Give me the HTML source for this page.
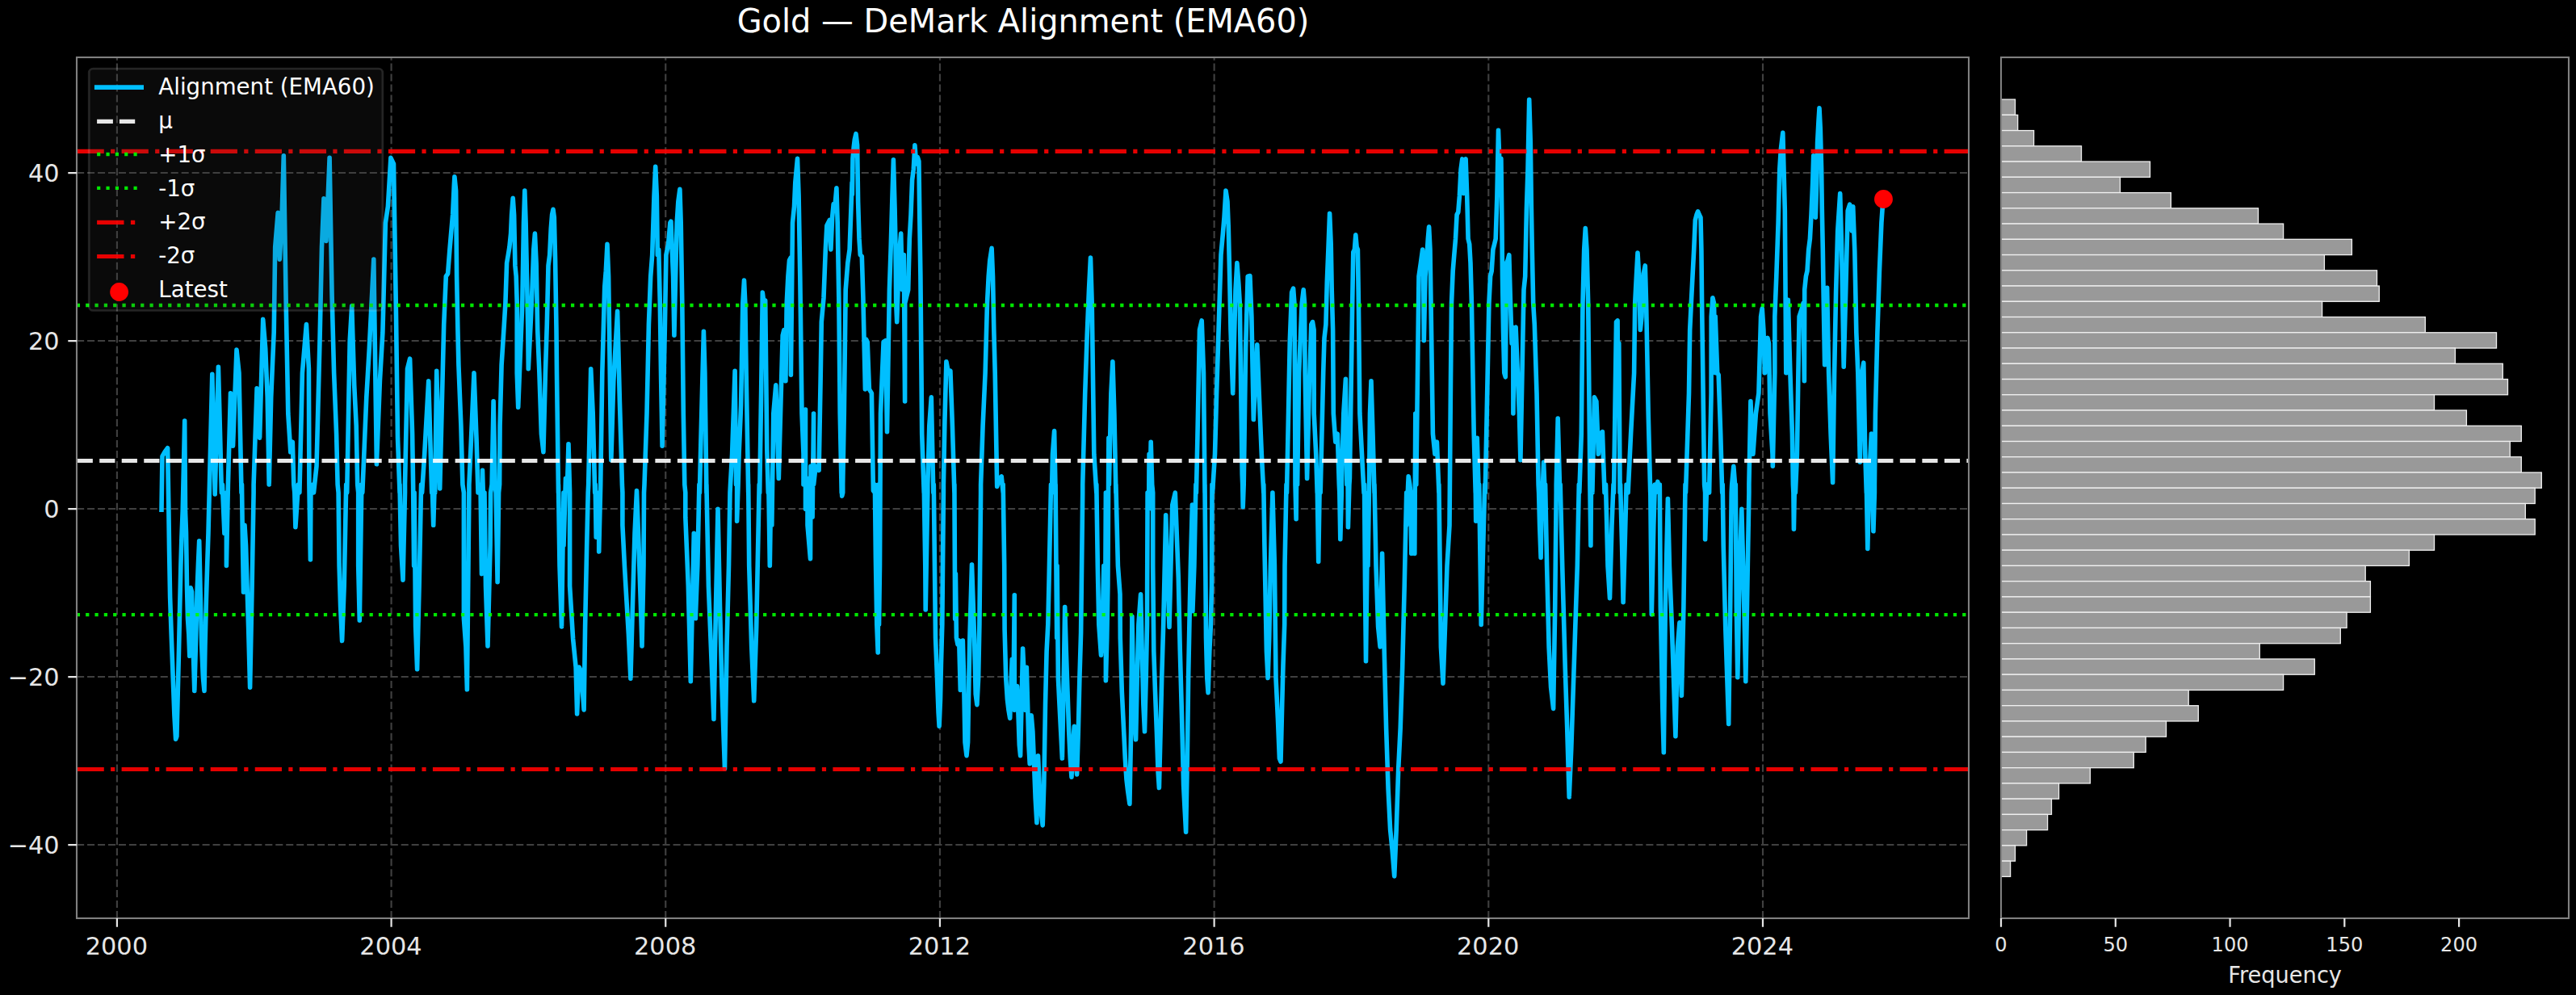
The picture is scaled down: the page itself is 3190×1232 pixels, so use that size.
<!DOCTYPE html><html><head><meta charset="utf-8"><title>Gold — DeMark Alignment (EMA60)</title><style>html,body{margin:0;padding:0;background:#000;overflow:hidden}svg{display:block}text{font-family:"DejaVu Sans","Liberation Sans",sans-serif}</style></head><body>
<svg width="3190" height="1232" viewBox="0 0 3190 1232">
<rect width="3190" height="1232" fill="#000"/>
<text transform="translate(1267.05 40.1) scale(1 1.03)" x="0" y="0" font-size="39.88" fill="#fff" text-anchor="middle">Gold — DeMark Alignment (EMA60)</text>
<defs><clipPath id="cm"><rect x="95.0" y="71.0" width="2343.0" height="1066.0"/></clipPath></defs>
<path d="M95.1 214.07H2438.0M95.1 422.07H2438.0M95.1 630.07H2438.0M95.1 838.07H2438.0M95.1 1046.07H2438.0" stroke="#404040" stroke-width="2.1" stroke-dasharray="9.05 3.905" fill="none"/>
<path d="M144.90 1137.0V71.0M484.58 1137.0V71.0M824.26 1137.0V71.0M1163.94 1137.0V71.0M1503.62 1137.0V71.0M1843.30 1137.0V71.0M2182.98 1137.0V71.0" stroke="#404040" stroke-width="2.1" stroke-dasharray="9.05 3.905" fill="none"/>
<g clip-path="url(#cm)"><path d="M200.0 631.2 L201.0 564.8 L204.0 559.7 L207.6 554.7 L208.9 633.2 L209.6 682.9 L210.6 739.3 L212.2 785.7 L214.2 838.8 L215.9 885.2 L217.6 915.1 L218.9 911.8 L220.2 858.7 L221.5 805.6 L222.9 742.6 L223.9 699.5 L224.9 666.3 L226.2 633.2 L228.7 521.1 L229.5 633.2 L230.5 659.7 L231.5 726.0 L232.5 765.8 L233.8 785.7 L234.8 812.3 L236.1 727.7 L237.5 732.7 L239.1 799.0 L240.8 855.4 L242.4 799.0 L244.1 732.7 L245.4 699.5 L246.7 669.7 L248.1 732.7 L249.7 799.0 L251.4 838.8 L253.0 855.4 L254.0 799.0 L255.4 742.6 L256.7 699.5 L258.0 659.7 L262.8 463.3 L266.2 612.0 L270.4 454.2 L274.4 610.0 L275.4 600.0 L277.9 660.3 L280.4 610.0 L280.4 700.5 L282.4 600.0 L285.5 486.9 L288.5 552.2 L293.0 433.1 L296.0 461.8 L299.0 610.0 L299.5 600.0 L300.5 675.4 L301.5 733.2 L303.0 650.3 L304.5 675.4 L307.6 775.9 L309.6 851.3 L312.1 725.6 L314.1 610.0 L314.1 600.0 L318.1 480.9 L321.6 542.2 L325.7 395.4 L328.7 431.6 L331.2 491.9 L333.2 599.9 L335.7 491.9 L339.2 411.5 L340.7 306.0 L344.2 263.3 L346.3 321.1 L348.8 275.8 L351.3 192.9 L354.3 381.4 L356.8 512.0 L359.8 559.7 L362.3 547.2 L363.8 600.0 L364.8 610.0 L365.9 652.8 L369.4 600.0 L370.9 610.0 L374.4 461.8 L379.4 401.5 L382.4 456.7 L382.9 600.0 L384.4 693.0 L384.9 610.0 L387.5 600.0 L388.5 610.0 L392.0 577.3 L396.0 421.6 L398.5 306.0 L401.0 245.7 L404.0 298.4 L408.1 195.4 L411.1 366.3 L413.6 461.8 L416.6 537.1 L418.1 600.0 L419.1 610.0 L420.1 700.5 L421.6 750.8 L423.6 793.5 L426.2 725.6 L428.7 600.0 L429.7 610.0 L433.2 421.6 L435.7 378.8 L438.7 476.8 L441.2 527.1 L442.7 600.0 L443.7 610.0 L443.7 700.5 L445.3 768.3 L447.8 600.0 L448.8 610.0 L453.8 491.9 L457.3 431.6 L462.8 321.1 L466.4 574.8 L470.4 471.8 L473.9 411.5 L477.4 275.8 L480.4 255.7 L483.9 195.4 L487.5 203.0 L490.5 391.4 L492.5 542.2 L495.0 610.0 L495.0 600.0 L496.5 675.4 L499.0 718.1 L501.5 610.0 L501.5 600.0 L504.5 456.7 L507.6 444.2 L510.6 537.1 L511.6 600.0 L512.6 700.5 L513.1 610.0 L514.6 775.9 L516.6 828.6 L519.1 725.6 L521.6 600.0 L522.6 610.0 L525.7 562.3 L530.7 471.8 L534.7 610.0 L535.2 600.0 L536.7 650.3 L538.2 600.0 L538.7 610.0 L540.7 459.2 L544.7 605.0 L549.7 401.9 L552.3 342.2 L554.6 338.9 L556.9 309.0 L558.6 289.1 L560.6 265.9 L562.3 229.4 L562.9 218.8 L564.6 236.0 L565.6 342.2 L566.9 408.5 L567.9 451.7 L570.9 527.1 L572.9 600.0 L574.4 610.0 L574.4 765.8 L576.9 801.0 L578.4 853.8 L580.9 610.0 L580.9 600.0 L582.9 557.2 L587.0 461.8 L590.0 542.2 L592.0 610.0 L595.0 600.0 L596.5 710.6 L597.5 582.4 L599.0 635.2 L600.0 610.0 L601.5 725.6 L604.0 800.0 L607.1 675.4 L607.6 610.0 L609.1 600.0 L611.1 496.9 L613.1 600.0 L614.1 610.0 L616.1 720.6 L617.6 610.0 L618.6 600.0 L619.1 527.1 L621.1 451.7 L624.3 401.9 L625.9 375.3 L627.6 325.6 L629.3 315.6 L630.9 305.7 L632.6 289.1 L633.6 265.9 L635.2 245.3 L636.6 265.9 L637.9 328.9 L639.2 342.2 L640.2 375.3 L640.2 461.8 L641.7 504.5 L646.8 375.3 L648.5 275.8 L649.8 236.0 L651.1 275.8 L652.5 342.2 L653.8 408.5 L654.3 456.7 L657.4 395.2 L659.1 355.4 L660.8 309.0 L662.4 289.1 L664.1 325.6 L665.7 408.5 L667.9 461.8 L670.4 537.1 L672.9 559.7 L675.4 461.8 L677.3 401.9 L679.0 328.9 L680.7 315.6 L682.3 282.5 L683.6 265.9 L685.0 259.3 L686.3 269.2 L687.6 322.3 L689.0 408.5 L689.5 461.8 L691.5 610.0 L691.5 600.0 L693.0 700.5 L695.5 775.9 L698.0 610.0 L698.0 675.4 L700.5 592.4 L700.5 600.0 L702.5 600.0 L704.0 549.7 L705.6 610.0 L705.6 725.6 L709.6 791.0 L713.1 826.1 L714.6 883.9 L717.1 826.1 L719.6 831.2 L723.1 878.9 L724.6 775.9 L726.7 675.4 L728.2 610.0 L728.7 600.0 L731.7 456.7 L734.2 512.0 L736.7 610.0 L737.2 600.0 L738.2 665.3 L741.7 610.0 L741.7 682.9 L743.7 600.0 L745.8 461.8 L748.7 355.4 L750.3 335.5 L752.0 302.4 L753.6 342.2 L756.8 569.8 L759.8 471.8 L764.6 385.3 L767.4 496.9 L769.4 562.3 L770.4 600.0 L770.9 610.0 L770.9 650.3 L773.4 700.5 L778.4 785.9 L780.9 840.2 L783.4 750.8 L786.0 660.3 L788.5 607.5 L791.0 675.4 L793.5 750.8 L795.0 800.0 L797.0 700.5 L797.5 610.0 L798.0 600.0 L801.0 512.0 L803.4 401.9 L805.7 342.2 L807.7 315.6 L810.0 242.7 L811.7 206.2 L813.3 242.7 L814.3 315.6 L815.7 309.0 L817.3 375.3 L818.6 466.8 L820.1 552.2 L823.3 408.5 L824.9 315.6 L827.6 302.4 L829.9 275.8 L830.9 274.2 L832.2 309.0 L833.6 342.2 L834.9 415.1 L836.6 342.2 L838.2 275.8 L839.9 249.3 L841.9 234.4 L843.2 275.8 L844.8 375.3 L846.3 512.0 L847.8 600.0 L848.8 610.0 L848.8 640.2 L852.3 725.6 L855.3 843.7 L857.3 750.8 L859.3 660.3 L861.3 765.8 L863.8 700.5 L865.9 600.0 L866.4 610.0 L867.9 547.2 L871.4 410.2 L872.9 461.8 L874.9 610.0 L874.9 600.0 L877.4 725.6 L881.4 826.1 L883.9 890.5 L886.5 750.8 L889.0 630.2 L891.5 750.8 L894.0 851.3 L897.5 951.8 L900.0 801.0 L902.5 700.5 L904.0 610.0 L904.5 600.0 L906.6 562.3 L910.1 459.2 L911.6 600.0 L912.6 537.1 L912.6 645.2 L914.1 600.0 L915.1 562.3 L917.6 502.0 L919.8 375.3 L921.5 347.1 L922.8 375.3 L924.1 461.8 L926.7 610.0 L926.7 600.0 L927.7 700.5 L930.7 801.0 L933.7 867.8 L936.7 775.9 L938.7 675.4 L940.2 600.0 L940.7 610.0 L942.7 481.9 L944.3 362.1 L946.0 375.3 L947.7 372.0 L949.8 557.2 L951.3 610.0 L951.8 600.0 L953.3 700.5 L954.8 600.0 L955.3 610.0 L955.8 650.3 L957.8 512.0 L960.8 476.8 L964.3 592.4 L967.9 461.8 L969.2 415.1 L970.9 408.5 L972.9 471.8 L974.2 375.3 L975.9 342.2 L977.5 322.3 L979.2 319.0 L979.4 464.3 L981.5 275.8 L983.5 255.9 L984.8 226.1 L987.5 196.2 L989.1 242.7 L990.8 342.2 L993.0 512.0 L995.0 562.3 L995.0 582.4 L995.0 600.0 L997.5 507.0 L997.5 630.2 L1000.0 592.4 L1000.0 650.3 L1003.5 692.0 L1004.0 577.3 L1006.1 640.2 L1007.6 512.0 L1007.6 600.0 L1010.1 577.3 L1014.1 582.4 L1016.1 471.8 L1017.3 398.6 L1020.0 368.7 L1022.3 309.0 L1023.9 279.2 L1027.3 272.5 L1028.9 309.0 L1030.6 269.2 L1032.2 252.6 L1033.9 255.9 L1035.9 232.7 L1037.2 275.8 L1038.9 375.3 L1040.2 512.0 L1042.2 610.0 L1042.2 600.0 L1042.7 614.1 L1043.7 610.0 L1043.7 600.0 L1045.3 512.0 L1047.2 358.8 L1049.8 325.6 L1052.1 309.0 L1055.1 226.1 L1055.3 240.7 L1056.0 196.2 L1057.3 181.3 L1058.3 173.0 L1060.0 165.7 L1061.6 179.7 L1062.6 249.3 L1064.0 295.7 L1065.3 315.6 L1067.3 317.3 L1068.9 368.7 L1071.4 481.9 L1072.6 420.1 L1074.2 423.4 L1076.4 481.9 L1079.4 486.9 L1081.4 607.5 L1083.4 610.0 L1083.4 600.0 L1084.4 690.5 L1085.8 773.2 L1087.2 808.0 L1088.0 610.0 L1088.0 600.0 L1088.5 773.2 L1089.5 700.5 L1090.5 512.0 L1094.1 423.4 L1096.5 421.8 L1098.5 534.6 L1101.4 358.8 L1103.1 309.0 L1104.8 249.3 L1106.4 197.9 L1108.1 259.3 L1109.1 309.0 L1109.7 375.3 L1110.7 398.6 L1112.0 358.8 L1114.0 309.0 L1115.7 289.1 L1117.4 358.8 L1119.3 315.6 L1120.6 496.9 L1120.7 375.3 L1124.7 358.8 L1126.3 295.7 L1128.0 265.9 L1129.6 222.8 L1131.3 209.5 L1132.9 179.7 L1134.6 202.9 L1136.3 194.6 L1137.9 199.6 L1138.9 275.8 L1139.9 342.2 L1141.7 537.1 L1144.2 610.0 L1144.2 600.0 L1145.8 700.5 L1146.2 754.9 L1148.8 610.0 L1148.8 600.0 L1150.8 527.1 L1153.3 491.9 L1155.8 610.0 L1156.3 600.0 L1158.5 789.8 L1160.5 839.5 L1162.1 882.6 L1163.1 899.2 L1164.5 866.0 L1165.4 822.9 L1166.8 773.2 L1168.4 610.0 L1168.4 600.0 L1169.9 522.1 L1171.9 447.7 L1174.4 461.8 L1176.9 459.2 L1179.4 527.1 L1181.9 610.0 L1181.9 600.0 L1182.7 766.5 L1183.4 710.6 L1184.4 789.8 L1186.0 798.0 L1187.7 793.1 L1189.3 854.4 L1191.0 852.8 L1192.3 793.1 L1193.6 839.5 L1195.0 919.1 L1197.0 935.7 L1198.6 919.1 L1199.9 839.5 L1200.9 789.8 L1203.5 699.0 L1206.6 789.8 L1208.2 859.4 L1209.9 872.7 L1211.6 839.5 L1212.9 773.2 L1214.6 610.0 L1214.6 600.0 L1217.1 527.1 L1220.1 461.8 L1222.5 375.3 L1224.2 342.2 L1225.8 322.3 L1228.1 307.3 L1229.5 342.2 L1230.8 408.5 L1232.2 461.8 L1234.7 602.5 L1237.7 592.4 L1240.2 589.9 L1242.2 610.0 L1242.2 600.0 L1243.7 700.5 L1244.1 779.8 L1245.7 839.5 L1247.4 866.0 L1249.0 879.3 L1250.7 889.3 L1252.3 839.5 L1253.3 816.3 L1255.0 856.1 L1256.3 736.7 L1256.3 879.3 L1258.0 872.7 L1259.6 849.5 L1260.6 872.7 L1262.3 922.4 L1263.6 935.7 L1265.0 872.7 L1266.6 803.0 L1268.3 839.5 L1269.9 879.3 L1271.3 826.2 L1272.6 872.7 L1273.9 922.4 L1275.2 945.6 L1277.2 885.9 L1278.9 905.8 L1280.5 945.6 L1282.2 988.8 L1283.9 1018.6 L1285.5 935.7 L1287.2 972.2 L1288.8 1002.0 L1291.2 1021.9 L1292.8 972.2 L1294.5 872.7 L1296.1 806.3 L1297.8 773.2 L1299.0 720.6 L1301.5 600.0 L1302.5 610.0 L1303.5 562.3 L1305.6 533.6 L1307.1 610.0 L1307.1 600.0 L1308.7 789.8 L1309.1 700.5 L1310.4 839.5 L1312.0 872.7 L1313.7 905.8 L1315.4 939.0 L1317.0 856.1 L1318.7 751.6 L1320.3 806.3 L1322.0 856.1 L1323.7 905.8 L1325.3 939.0 L1327.0 962.2 L1328.6 922.4 L1330.3 899.2 L1331.9 939.0 L1333.6 958.9 L1335.3 905.8 L1336.9 839.5 L1338.6 783.1 L1340.7 610.0 L1340.7 600.0 L1343.7 486.9 L1346.2 415.1 L1348.5 358.8 L1350.5 319.0 L1352.2 375.3 L1354.8 562.3 L1357.8 610.0 L1357.8 600.0 L1359.3 700.5 L1360.8 773.2 L1363.5 811.3 L1365.1 773.2 L1366.9 700.5 L1368.4 806.3 L1369.4 610.0 L1369.4 842.8 L1370.8 789.8 L1371.9 725.6 L1372.9 542.2 L1373.4 600.0 L1375.9 486.9 L1377.9 447.7 L1379.9 512.0 L1381.9 610.0 L1381.9 600.0 L1384.4 700.5 L1387.0 735.7 L1387.3 789.8 L1389.3 856.1 L1391.7 905.8 L1393.3 939.0 L1395.0 965.5 L1396.6 978.8 L1398.9 995.4 L1400.6 905.8 L1401.9 763.2 L1403.3 839.5 L1404.9 889.3 L1406.6 915.8 L1408.2 839.5 L1409.9 773.2 L1412.6 735.7 L1414.2 806.3 L1415.9 872.7 L1417.5 905.8 L1419.2 839.5 L1420.5 773.2 L1421.1 610.0 L1422.6 630.2 L1423.1 562.3 L1424.1 600.0 L1425.2 547.2 L1426.7 600.0 L1427.7 610.0 L1427.7 700.5 L1428.8 806.3 L1430.5 856.1 L1432.4 905.8 L1434.1 955.6 L1435.4 975.5 L1437.1 905.8 L1438.7 839.5 L1440.7 773.2 L1443.7 637.7 L1448.0 776.5 L1451.8 625.1 L1455.3 610.1 L1459.3 715.6 L1461.3 806.3 L1463.6 889.3 L1465.6 972.2 L1467.3 1005.3 L1468.6 1030.2 L1470.3 939.0 L1471.6 839.5 L1472.9 773.2 L1474.4 700.5 L1476.4 625.1 L1476.9 756.6 L1478.9 700.5 L1480.9 600.0 L1481.4 610.0 L1482.9 542.2 L1485.5 408.5 L1488.2 396.9 L1490.5 461.8 L1492.0 610.0 L1492.0 600.0 L1493.5 789.8 L1494.8 839.5 L1496.1 857.7 L1497.8 806.3 L1499.4 773.2 L1500.5 725.6 L1501.0 600.0 L1501.5 610.0 L1504.5 562.3 L1506.6 486.9 L1510.1 375.3 L1512.0 315.6 L1514.4 289.1 L1516.0 269.2 L1518.0 236.0 L1520.0 249.3 L1521.3 282.5 L1522.7 342.2 L1524.0 408.5 L1526.7 486.9 L1530.0 358.8 L1531.9 325.6 L1533.9 352.1 L1535.3 375.3 L1538.2 587.4 L1538.7 600.0 L1539.2 627.6 L1540.2 600.0 L1542.6 431.7 L1545.2 342.2 L1547.9 341.5 L1549.9 391.9 L1552.3 519.5 L1556.8 426.7 L1559.8 502.0 L1562.3 562.3 L1564.8 610.0 L1564.8 600.0 L1565.9 675.4 L1568.4 806.3 L1570.1 839.5 L1571.7 789.8 L1573.4 700.5 L1575.9 610.1 L1578.4 700.5 L1580.0 839.5 L1582.4 889.3 L1584.4 939.0 L1586.0 943.0 L1587.7 872.7 L1589.0 822.9 L1590.7 773.2 L1591.0 700.5 L1593.0 600.0 L1593.5 610.0 L1596.0 486.9 L1597.3 421.8 L1599.6 362.1 L1601.6 357.1 L1602.9 375.3 L1603.5 461.8 L1604.0 600.0 L1605.1 642.7 L1606.1 537.1 L1606.6 600.0 L1608.6 461.8 L1612.2 375.3 L1614.2 358.8 L1615.5 375.3 L1616.1 461.8 L1618.6 592.4 L1621.1 486.9 L1623.8 401.9 L1625.5 398.6 L1627.1 408.5 L1627.2 512.0 L1629.7 562.3 L1631.2 610.0 L1631.2 600.0 L1632.7 695.5 L1634.2 600.0 L1635.2 610.0 L1638.7 461.8 L1640.0 418.5 L1641.9 401.9 L1643.3 348.8 L1644.9 309.0 L1646.6 264.2 L1648.2 302.4 L1649.2 358.8 L1650.6 408.5 L1651.3 512.0 L1653.8 547.2 L1656.3 537.1 L1658.3 600.0 L1658.8 610.0 L1659.8 667.8 L1661.3 610.0 L1661.3 600.0 L1663.8 512.0 L1666.4 469.3 L1667.9 600.0 L1668.9 562.3 L1669.4 652.8 L1670.9 600.0 L1671.4 592.4 L1674.8 368.7 L1675.8 312.3 L1677.4 309.0 L1678.8 290.8 L1680.1 305.7 L1681.4 309.0 L1682.4 375.3 L1683.9 512.0 L1686.5 562.3 L1689.0 610.0 L1689.5 600.0 L1690.5 725.6 L1691.5 818.6 L1694.0 610.0 L1694.0 700.5 L1695.5 600.0 L1696.5 512.0 L1698.0 471.8 L1700.0 537.1 L1702.0 610.0 L1702.0 600.0 L1704.0 700.5 L1706.6 775.9 L1709.1 801.0 L1711.6 685.4 L1714.1 801.0 L1716.6 901.5 L1719.1 976.9 L1721.6 1027.1 L1724.1 1052.3 L1726.7 1084.9 L1729.2 1027.1 L1731.7 951.8 L1734.2 901.5 L1736.7 826.1 L1739.2 725.6 L1741.7 610.0 L1741.7 650.3 L1743.7 600.0 L1744.2 589.9 L1745.8 600.0 L1746.8 610.0 L1747.8 685.4 L1749.3 610.0 L1749.8 650.3 L1751.8 685.4 L1752.8 512.0 L1753.8 600.0 L1757.0 342.2 L1759.4 325.6 L1761.7 309.0 L1762.7 342.2 L1763.3 421.8 L1765.0 342.2 L1766.7 322.3 L1768.3 295.7 L1769.6 280.8 L1771.0 309.0 L1772.0 375.3 L1774.4 537.1 L1776.9 562.3 L1779.4 547.2 L1781.9 610.0 L1781.9 600.0 L1784.4 801.0 L1787.0 846.2 L1789.5 775.9 L1792.0 700.5 L1795.0 650.3 L1796.5 471.8 L1797.5 375.3 L1799.2 335.5 L1800.8 315.6 L1802.5 295.7 L1804.1 265.9 L1805.8 262.6 L1807.4 242.7 L1809.1 209.5 L1810.8 196.9 L1812.4 239.4 L1813.4 199.6 L1815.1 196.9 L1816.7 242.7 L1818.1 295.7 L1819.7 302.4 L1821.0 325.6 L1822.4 375.3 L1825.2 537.1 L1827.2 610.0 L1827.2 600.0 L1827.7 645.2 L1828.2 610.0 L1828.7 600.0 L1829.2 542.2 L1831.2 610.0 L1831.7 600.0 L1834.2 773.4 L1836.7 675.4 L1838.7 600.0 L1839.2 610.0 L1841.2 512.0 L1843.9 375.3 L1845.6 342.2 L1847.2 335.5 L1848.9 309.0 L1850.6 302.4 L1852.2 295.7 L1853.9 242.7 L1855.5 161.4 L1857.2 209.5 L1858.9 196.2 L1859.9 275.8 L1860.5 342.2 L1861.5 408.5 L1862.8 461.8 L1864.3 466.8 L1865.5 325.6 L1867.1 322.3 L1868.8 315.6 L1870.5 375.3 L1872.1 425.1 L1873.8 405.2 L1873.9 512.0 L1875.4 406.8 L1877.1 405.2 L1881.4 512.0 L1882.9 569.8 L1887.0 358.8 L1888.7 342.2 L1890.4 259.3 L1892.0 209.5 L1893.7 123.3 L1895.3 176.3 L1896.3 252.6 L1897.3 309.0 L1898.7 375.3 L1900.3 401.9 L1903.0 486.9 L1905.1 600.0 L1905.6 610.0 L1906.6 650.3 L1908.1 690.5 L1909.6 600.0 L1910.1 610.0 L1911.6 572.3 L1913.1 610.0 L1913.6 600.0 L1915.6 700.5 L1918.1 801.0 L1920.6 851.3 L1923.6 877.4 L1925.7 750.8 L1927.2 610.0 L1927.2 600.0 L1929.2 518.0 L1931.7 610.0 L1932.2 600.0 L1934.7 700.5 L1938.2 826.1 L1940.7 901.5 L1943.2 986.9 L1945.8 926.6 L1948.3 851.3 L1950.8 775.9 L1953.3 700.5 L1955.3 600.0 L1955.8 610.0 L1958.3 537.1 L1960.0 375.3 L1961.7 309.0 L1963.3 282.5 L1965.0 309.0 L1966.7 375.3 L1968.4 537.1 L1968.9 600.0 L1969.9 675.4 L1970.4 610.0 L1971.4 600.0 L1971.9 610.0 L1974.4 491.9 L1976.9 496.9 L1979.4 562.3 L1981.9 537.1 L1984.4 534.6 L1987.0 610.0 L1988.5 600.0 L1991.0 700.5 L1993.5 740.7 L1996.0 650.3 L1998.0 600.0 L1998.5 610.0 L2001.5 398.6 L2003.1 396.9 L2003.5 461.8 L2004.8 425.1 L2006.1 610.0 L2006.6 600.0 L2008.6 675.4 L2010.1 745.7 L2012.1 675.4 L2014.1 600.0 L2016.1 610.0 L2019.6 537.1 L2023.6 461.8 L2024.7 375.3 L2026.4 342.2 L2028.0 313.0 L2029.7 342.2 L2031.3 408.5 L2033.0 391.9 L2034.6 342.2 L2037.3 328.9 L2038.6 375.3 L2041.2 512.0 L2043.7 610.0 L2043.7 600.0 L2045.3 760.8 L2047.8 650.3 L2049.3 600.0 L2050.3 610.0 L2052.8 596.4 L2054.8 610.0 L2055.3 600.0 L2056.3 750.8 L2058.8 876.4 L2060.3 931.7 L2062.3 750.8 L2065.4 617.6 L2067.4 700.5 L2070.4 775.9 L2072.9 851.3 L2074.9 911.6 L2077.4 801.0 L2079.9 770.9 L2082.4 861.3 L2084.9 750.8 L2087.0 600.0 L2087.5 610.0 L2091.5 486.9 L2092.7 408.5 L2094.3 375.3 L2096.0 342.2 L2097.7 309.0 L2099.3 272.5 L2101.0 265.9 L2102.6 261.9 L2104.3 265.9 L2106.0 269.2 L2106.9 309.0 L2107.6 375.3 L2109.1 486.9 L2110.6 600.0 L2111.6 610.0 L2111.6 667.8 L2113.6 600.0 L2116.6 610.0 L2119.1 486.9 L2119.2 391.9 L2120.9 368.7 L2122.5 375.3 L2124.1 461.8 L2124.2 391.9 L2126.7 461.8 L2128.2 464.3 L2130.7 537.1 L2132.7 610.0 L2133.2 600.0 L2134.2 675.4 L2136.7 775.9 L2139.2 851.3 L2140.7 896.5 L2142.7 750.8 L2144.2 610.0 L2144.7 600.0 L2146.8 577.3 L2149.3 610.0 L2149.3 600.0 L2150.3 750.8 L2151.8 838.7 L2154.3 700.5 L2156.8 630.2 L2159.3 725.6 L2161.8 843.7 L2164.3 700.5 L2165.9 610.0 L2165.9 600.0 L2167.9 496.9 L2170.9 562.3 L2174.4 512.0 L2177.9 486.9 L2180.6 391.9 L2182.2 382.0 L2183.9 408.5 L2185.5 461.8 L2185.6 418.5 L2187.2 421.8 L2188.9 418.5 L2190.5 425.1 L2192.0 512.0 L2195.0 562.3 L2195.3 577.3 L2197.8 461.8 L2197.8 391.9 L2199.8 342.2 L2202.1 275.8 L2203.8 209.5 L2205.3 185.4 L2207.8 164.3 L2210.3 260.8 L2211.8 461.8 L2214.3 371.3 L2216.9 461.8 L2219.4 537.1 L2220.4 600.0 L2220.9 610.0 L2221.4 655.3 L2222.4 600.0 L2223.4 610.0 L2225.4 562.3 L2226.9 461.8 L2228.1 391.9 L2231.4 382.0 L2233.1 375.3 L2234.4 471.8 L2234.7 358.8 L2236.4 342.2 L2238.0 335.5 L2239.7 309.0 L2241.4 295.7 L2243.0 265.9 L2244.7 226.1 L2245.7 192.9 L2247.3 209.5 L2248.3 269.2 L2249.7 226.1 L2250.6 176.3 L2252.0 149.8 L2253.0 133.9 L2254.3 159.8 L2255.6 209.5 L2256.3 259.3 L2257.3 309.0 L2258.3 375.3 L2259.6 451.7 L2262.6 356.2 L2264.6 461.8 L2267.1 537.1 L2269.6 597.4 L2271.6 461.8 L2273.6 361.3 L2275.7 285.9 L2278.7 239.6 L2280.7 311.0 L2283.2 454.2 L2285.7 361.3 L2288.2 260.8 L2290.7 253.2 L2293.2 285.9 L2294.7 255.7 L2296.8 311.0 L2298.8 411.5 L2300.8 461.8 L2303.3 572.3 L2305.8 461.8 L2307.8 449.2 L2309.8 562.3 L2311.3 610.0 L2311.3 600.0 L2312.8 679.4 L2314.3 610.0 L2314.3 600.0 L2317.4 537.1 L2318.9 610.0 L2318.9 600.0 L2319.9 657.8 L2321.4 610.0 L2321.4 600.0 L2322.4 512.0 L2324.9 411.5 L2327.4 336.1 L2329.9 275.8 L2331.9 246.7" stroke="#00bfff" stroke-width="5.6" fill="none" stroke-linejoin="round" stroke-linecap="square"/></g>
<g clip-path="url(#cm)">
<path d="M95.67 570.5H2438.0" stroke="#fff" stroke-opacity="0.9" stroke-width="5.19" stroke-dasharray="19.2 8.326" fill="none"/>
<path d="M94.76 378.0H2438.0" stroke="#00ff00" stroke-opacity="0.9" stroke-width="4.28" stroke-dasharray="4.28 7.057" fill="none"/>
<path d="M94.76 761.05H2438.0" stroke="#00ff00" stroke-opacity="0.9" stroke-width="4.28" stroke-dasharray="4.28 7.057" fill="none"/>
<path d="M95.54 187.43H2438.0" stroke="#ff0000" stroke-opacity="0.9" stroke-width="5.19" stroke-dasharray="33.24 8.31 5.19 8.31" fill="none"/>
<path d="M95.54 952.5H2438.0" stroke="#ff0000" stroke-opacity="0.9" stroke-width="5.19" stroke-dasharray="33.24 8.31 5.19 8.31" fill="none"/>
</g>
<circle cx="2332.45" cy="246.5" r="11.45" fill="#ff0000"/>
<rect x="95.0" y="71.0" width="2343.0" height="1066.0" fill="none" stroke="#808080" stroke-width="2.1"/>
<path d="M84.3 214.07H95.0M84.3 422.07H95.0M84.3 630.07H95.0M84.3 838.07H95.0M84.3 1046.07H95.0M144.90 1137.0V1147.7M484.58 1137.0V1147.7M824.26 1137.0V1147.7M1163.94 1137.0V1147.7M1503.62 1137.0V1147.7M1843.30 1137.0V1147.7M2182.98 1137.0V1147.7" stroke="#e6e6e6" stroke-width="2.2" fill="none"/>
<text x="73.6" y="225.07" font-size="30.27" fill="#e6e6e6" text-anchor="end">40</text>
<text x="73.6" y="433.07" font-size="30.27" fill="#e6e6e6" text-anchor="end">20</text>
<text x="73.6" y="641.07" font-size="30.27" fill="#e6e6e6" text-anchor="end">0</text>
<text x="73.6" y="849.07" font-size="30.27" fill="#e6e6e6" text-anchor="end">−20</text>
<text x="73.6" y="1057.07" font-size="30.27" fill="#e6e6e6" text-anchor="end">−40</text>
<text x="144.30" y="1181.9" font-size="30.4" fill="#e6e6e6" text-anchor="middle">2000</text>
<text x="483.98" y="1181.9" font-size="30.4" fill="#e6e6e6" text-anchor="middle">2004</text>
<text x="823.66" y="1181.9" font-size="30.4" fill="#e6e6e6" text-anchor="middle">2008</text>
<text x="1163.34" y="1181.9" font-size="30.4" fill="#e6e6e6" text-anchor="middle">2012</text>
<text x="1503.02" y="1181.9" font-size="30.4" fill="#e6e6e6" text-anchor="middle">2016</text>
<text x="1842.70" y="1181.9" font-size="30.4" fill="#e6e6e6" text-anchor="middle">2020</text>
<text x="2182.38" y="1181.9" font-size="30.4" fill="#e6e6e6" text-anchor="middle">2024</text>
<rect x="2478.0" y="123.10" width="17.50" height="19.25" fill="#999" stroke="#f0f0f0" stroke-width="1.3"/>
<rect x="2478.0" y="142.35" width="20.70" height="19.25" fill="#999" stroke="#f0f0f0" stroke-width="1.3"/>
<rect x="2478.0" y="161.59" width="40.60" height="19.25" fill="#999" stroke="#f0f0f0" stroke-width="1.3"/>
<rect x="2478.0" y="180.84" width="99.50" height="19.25" fill="#999" stroke="#f0f0f0" stroke-width="1.3"/>
<rect x="2478.0" y="200.08" width="184.50" height="19.25" fill="#999" stroke="#f0f0f0" stroke-width="1.3"/>
<rect x="2478.0" y="219.33" width="147.50" height="19.25" fill="#999" stroke="#f0f0f0" stroke-width="1.3"/>
<rect x="2478.0" y="238.58" width="210.40" height="19.25" fill="#999" stroke="#f0f0f0" stroke-width="1.3"/>
<rect x="2478.0" y="257.82" width="318.50" height="19.25" fill="#999" stroke="#f0f0f0" stroke-width="1.3"/>
<rect x="2478.0" y="277.07" width="349.60" height="19.25" fill="#999" stroke="#f0f0f0" stroke-width="1.3"/>
<rect x="2478.0" y="296.31" width="434.40" height="19.25" fill="#999" stroke="#f0f0f0" stroke-width="1.3"/>
<rect x="2478.0" y="315.56" width="400.40" height="19.25" fill="#999" stroke="#f0f0f0" stroke-width="1.3"/>
<rect x="2478.0" y="334.81" width="465.50" height="19.25" fill="#999" stroke="#f0f0f0" stroke-width="1.3"/>
<rect x="2478.0" y="354.05" width="468.30" height="19.25" fill="#999" stroke="#f0f0f0" stroke-width="1.3"/>
<rect x="2478.0" y="373.30" width="397.60" height="19.25" fill="#999" stroke="#f0f0f0" stroke-width="1.3"/>
<rect x="2478.0" y="392.54" width="525.30" height="19.25" fill="#999" stroke="#f0f0f0" stroke-width="1.3"/>
<rect x="2478.0" y="411.79" width="613.50" height="19.25" fill="#999" stroke="#f0f0f0" stroke-width="1.3"/>
<rect x="2478.0" y="431.04" width="562.40" height="19.25" fill="#999" stroke="#f0f0f0" stroke-width="1.3"/>
<rect x="2478.0" y="450.28" width="621.30" height="19.25" fill="#999" stroke="#f0f0f0" stroke-width="1.3"/>
<rect x="2478.0" y="469.53" width="627.50" height="19.25" fill="#999" stroke="#f0f0f0" stroke-width="1.3"/>
<rect x="2478.0" y="488.77" width="536.50" height="19.25" fill="#999" stroke="#f0f0f0" stroke-width="1.3"/>
<rect x="2478.0" y="508.02" width="576.40" height="19.25" fill="#999" stroke="#f0f0f0" stroke-width="1.3"/>
<rect x="2478.0" y="527.27" width="644.30" height="19.25" fill="#999" stroke="#f0f0f0" stroke-width="1.3"/>
<rect x="2478.0" y="546.51" width="630.30" height="19.25" fill="#999" stroke="#f0f0f0" stroke-width="1.3"/>
<rect x="2478.0" y="565.76" width="644.30" height="19.25" fill="#999" stroke="#f0f0f0" stroke-width="1.3"/>
<rect x="2478.0" y="585.00" width="669.30" height="19.25" fill="#999" stroke="#f0f0f0" stroke-width="1.3"/>
<rect x="2478.0" y="604.25" width="661.20" height="19.25" fill="#999" stroke="#f0f0f0" stroke-width="1.3"/>
<rect x="2478.0" y="623.50" width="649.30" height="19.25" fill="#999" stroke="#f0f0f0" stroke-width="1.3"/>
<rect x="2478.0" y="642.74" width="661.20" height="19.25" fill="#999" stroke="#f0f0f0" stroke-width="1.3"/>
<rect x="2478.0" y="661.99" width="536.50" height="19.25" fill="#999" stroke="#f0f0f0" stroke-width="1.3"/>
<rect x="2478.0" y="681.23" width="505.40" height="19.25" fill="#999" stroke="#f0f0f0" stroke-width="1.3"/>
<rect x="2478.0" y="700.48" width="451.20" height="19.25" fill="#999" stroke="#f0f0f0" stroke-width="1.3"/>
<rect x="2478.0" y="719.73" width="457.40" height="19.25" fill="#999" stroke="#f0f0f0" stroke-width="1.3"/>
<rect x="2478.0" y="738.97" width="457.40" height="19.25" fill="#999" stroke="#f0f0f0" stroke-width="1.3"/>
<rect x="2478.0" y="758.22" width="428.10" height="19.25" fill="#999" stroke="#f0f0f0" stroke-width="1.3"/>
<rect x="2478.0" y="777.46" width="420.30" height="19.25" fill="#999" stroke="#f0f0f0" stroke-width="1.3"/>
<rect x="2478.0" y="796.71" width="320.30" height="19.25" fill="#999" stroke="#f0f0f0" stroke-width="1.3"/>
<rect x="2478.0" y="815.96" width="388.30" height="19.25" fill="#999" stroke="#f0f0f0" stroke-width="1.3"/>
<rect x="2478.0" y="835.20" width="349.60" height="19.25" fill="#999" stroke="#f0f0f0" stroke-width="1.3"/>
<rect x="2478.0" y="854.45" width="232.20" height="19.25" fill="#999" stroke="#f0f0f0" stroke-width="1.3"/>
<rect x="2478.0" y="873.69" width="244.30" height="19.25" fill="#999" stroke="#f0f0f0" stroke-width="1.3"/>
<rect x="2478.0" y="892.94" width="204.50" height="19.25" fill="#999" stroke="#f0f0f0" stroke-width="1.3"/>
<rect x="2478.0" y="912.19" width="179.20" height="19.25" fill="#999" stroke="#f0f0f0" stroke-width="1.3"/>
<rect x="2478.0" y="931.43" width="164.30" height="19.25" fill="#999" stroke="#f0f0f0" stroke-width="1.3"/>
<rect x="2478.0" y="950.68" width="110.40" height="19.25" fill="#999" stroke="#f0f0f0" stroke-width="1.3"/>
<rect x="2478.0" y="969.92" width="71.60" height="19.25" fill="#999" stroke="#f0f0f0" stroke-width="1.3"/>
<rect x="2478.0" y="989.17" width="62.50" height="19.25" fill="#999" stroke="#f0f0f0" stroke-width="1.3"/>
<rect x="2478.0" y="1008.42" width="57.60" height="19.25" fill="#999" stroke="#f0f0f0" stroke-width="1.3"/>
<rect x="2478.0" y="1027.66" width="31.60" height="19.25" fill="#999" stroke="#f0f0f0" stroke-width="1.3"/>
<rect x="2478.0" y="1046.91" width="17.50" height="19.25" fill="#999" stroke="#f0f0f0" stroke-width="1.3"/>
<rect x="2478.0" y="1066.15" width="11.60" height="19.25" fill="#999" stroke="#f0f0f0" stroke-width="1.3"/>
<rect x="2478.0" y="71.0" width="703.0" height="1066.0" fill="none" stroke="#808080" stroke-width="2.1"/>
<path d="M2478.00 1137.0V1147.7M2619.78 1137.0V1147.7M2761.55 1137.0V1147.7M2903.32 1137.0V1147.7M3045.10 1137.0V1147.7" stroke="#e6e6e6" stroke-width="2.2" fill="none"/>
<text x="2478.00" y="1178" font-size="24.09" fill="#e6e6e6" text-anchor="middle">0</text>
<text x="2619.78" y="1178" font-size="24.09" fill="#e6e6e6" text-anchor="middle">50</text>
<text x="2761.55" y="1178" font-size="24.09" fill="#e6e6e6" text-anchor="middle">100</text>
<text x="2903.32" y="1178" font-size="24.09" fill="#e6e6e6" text-anchor="middle">150</text>
<text x="3045.10" y="1178" font-size="24.09" fill="#e6e6e6" text-anchor="middle">200</text>
<text transform="translate(2829.6 1217.17) scale(1 1.05)" x="0" y="0" font-size="27.26" fill="#e6e6e6" text-anchor="middle">Frequency</text>
<rect x="110.2" y="85" width="363.7" height="299.5" rx="5" ry="5" fill="#404040" fill-opacity="0.16" stroke="#ffffff" stroke-opacity="0.13" stroke-width="2.7"/>
<path d="M116.9 108.1H178" stroke="#00bfff" stroke-width="5.6"/>
<path d="M120.1 150.3H139.9M147.9 150.3H167.2" stroke="#fff" stroke-opacity="0.9" stroke-width="5.19"/>
<path d="M120.10 191.0h4.2M131.45 191.0h4.2M142.80 191.0h4.2M154.15 191.0h4.2M165.50 191.0h4.2" stroke="#00ff00" stroke-opacity="0.9" stroke-width="4.28"/>
<path d="M120.10 232.8h4.2M131.45 232.8h4.2M142.80 232.8h4.2M154.15 232.8h4.2M165.50 232.8h4.2" stroke="#00ff00" stroke-opacity="0.9" stroke-width="4.28"/>
<path d="M120.1 275.4H153.5M161.9 275.4H167.2" stroke="#ff0000" stroke-opacity="0.9" stroke-width="5.19"/>
<path d="M120.1 317.5H153.5M161.9 317.5H167.2" stroke="#ff0000" stroke-opacity="0.9" stroke-width="5.19"/>
<circle cx="147.6" cy="361.5" r="11.4" fill="#ff0000"/>
<text x="196.3" y="116.94" font-size="27.67" fill="#fff">Alignment (EMA60)</text>
<text x="196.3" y="158.82" font-size="27.67" fill="#fff">μ</text>
<text x="196.3" y="200.70" font-size="27.67" fill="#fff">+1σ</text>
<text x="196.3" y="242.58" font-size="27.67" fill="#fff">-1σ</text>
<text x="196.3" y="284.46" font-size="27.67" fill="#fff">+2σ</text>
<text x="196.3" y="326.34" font-size="27.67" fill="#fff">-2σ</text>
<text x="196.3" y="368.22" font-size="27.67" fill="#fff">Latest</text>
</svg></body></html>
